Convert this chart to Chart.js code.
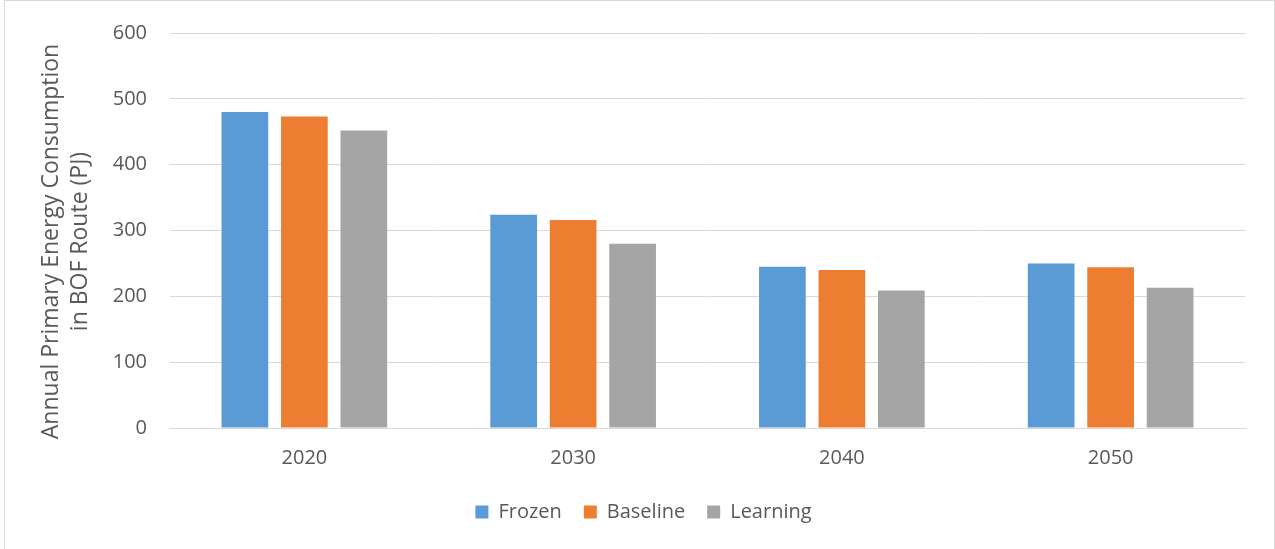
<!DOCTYPE html>
<html>
<head>
<meta charset="utf-8">
<script src="https://cdn.jsdelivr.net/npm/chart.js@4/dist/chart.umd.min.js"></script>
<style>
  html, body { margin: 0; padding: 0; background: #fff; overflow: hidden; }
  #wrap { position: absolute; left: 4px; top: 0px; width: 1271px; height: 549px; border: 1px solid #d9d9d9; border-bottom: none; box-sizing: border-box; }
  #c { position: absolute; left: 0; top: 0; }
</style>
</head>
<body>
<div id="wrap"></div>
<canvas id="c" width="1275" height="549"></canvas>
<script>
const categories = ["2020", "2030", "2040", "2050"];
const frozen = [480, 324, 245, 250];
const baseline = [473, 316, 240, 244];
const learning = [452, 280, 209, 213];
const yTicks = [0, 100, 200, 300, 400, 500, 600];
const yTitle = ["Annual Primary Energy Consumption", "in BOF Route (PJ)"];

const FONT = "Open Sans, Liberation Sans, sans-serif";
const TXT = "#595959";

const titlePlugin = {
  id: "yTitle",
  afterDraw(chart) {
    const ctx = chart.ctx;
    const xs = [51, 80];
    const cy = 241.5;
    ctx.save();
    ctx.fillStyle = TXT;
    ctx.font = "23px " + FONT;
    ctx.textAlign = "center";
    ctx.textBaseline = "middle";
    yTitle.forEach((t, i) => {
      ctx.save();
      ctx.translate(xs[i], cy);
      ctx.rotate(-Math.PI / 2);
      ctx.fillText(t, 0, 0);
      ctx.restore();
    });
    ctx.restore();
  }
};

new Chart(document.getElementById("c"), {
  type: "bar",
  data: {
    labels: categories,
    datasets: [
      { label: "Frozen", data: frozen, backgroundColor: "#5B9BD5" },
      { label: "Baseline", data: baseline, backgroundColor: "#ED7D31" },
      { label: "Learning", data: learning, backgroundColor: "#A5A5A5" }
    ]
  },
  plugins: [titlePlugin],
  options: {
    responsive: false,
    animation: false,
    devicePixelRatio: 1,
    layout: { padding: { left: 42, right: 30, top: 33, bottom: 17 } },
    datasets: { bar: { categoryPercentage: 0.664, barPercentage: 0.785 } },
    plugins: {
      legend: {
        position: "bottom",
        labels: {
          boxWidth: 13, boxHeight: 13, padding: 22,
          color: TXT, font: { family: FONT, size: 20 }
        }
      },
      tooltip: { enabled: false }
    },
    scales: {
      x: {
        afterFit: (axis) => { axis.height = axis.height - 8; },
        grid: { display: false, drawTicks: false },
        border: { display: true, color: "#d9d9d9", width: 1 },
        ticks: { color: TXT, font: { family: FONT, size: 20 }, padding: 18 }
      },
      y: {
        min: 0, max: 600,
        afterBuildTicks: (axis) => { axis.ticks = yTicks.map(v => ({ value: v })); },
        afterFit: (axis) => { axis.width = 128; axis.paddingTop = 0; axis.paddingBottom = 0; },
        grid: { color: "#d9d9d9", lineWidth: 1, drawTicks: false },
        border: { display: false },
        ticks: { color: TXT, font: { family: FONT, size: 20 }, padding: 23 }
      }
    }
  }
});
</script>
</body>
</html>
